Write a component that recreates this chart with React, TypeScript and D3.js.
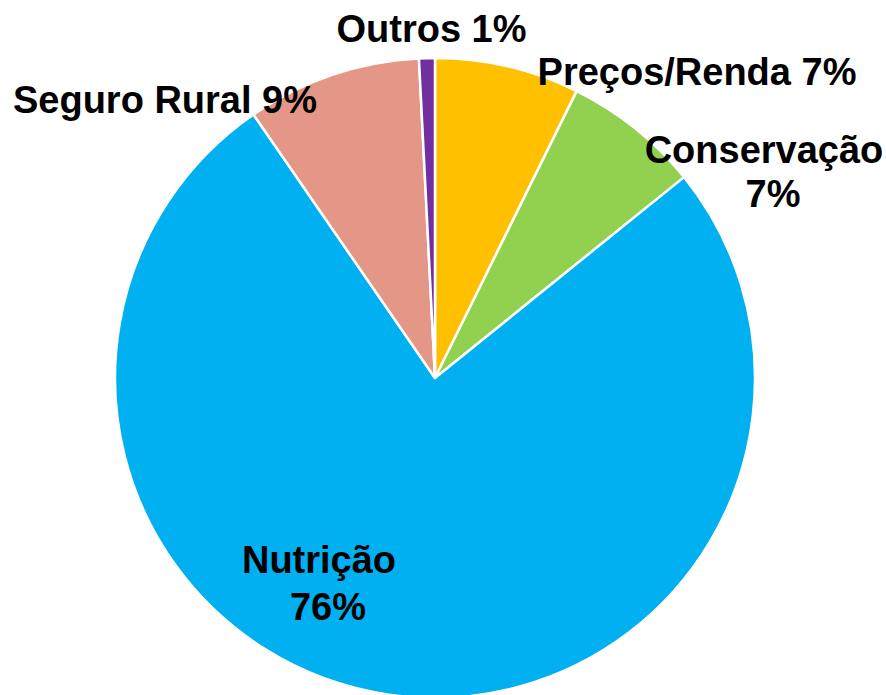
import React from "react";
import * as d3 from "d3";

const categories = ["Preços/Renda", "Conservação", "Nutrição", "Seguro Rural", "Outros"];
const values = [7.3, 6.9, 76.2, 8.8, 0.8];
const percentLabels = ["7%", "7%", "76%", "9%", "1%"];
const colors = ["#FFC000", "#92D050", "#00B0F0", "#E59787", "#7030A0"];

const W = 886;
const H = 695;
const cx = 435;
const cy = 378;
const R = 320;

// label layout (relative to centre): lines + position of each line
const labelLayout: Record<string, { lines: string[]; x: number[]; y: number[] }> = {
  "Preços/Renda": { lines: ["{c} {p}"], x: [262], y: [-293] },
  "Conservação": { lines: ["{c}", "{p}"], x: [329, 338], y: [-215, -171] },
  "Nutrição": { lines: ["{c}", "{p}"], x: [-116, -107], y: [195, 242] },
  "Seguro Rural": { lines: ["{c} {p}"], x: [-270], y: [-265] },
  "Outros": { lines: ["{c} {p}"], x: [-3.5], y: [-336] },
};

export default function App() {
  const data = categories.map((c, i) => ({ c, v: values[i], p: percentLabels[i], color: colors[i] }));
  const pie = d3
    .pie<any>()
    .sort(null)
    .value((d: any) => d.v)
    .startAngle(0)
    .endAngle(2 * Math.PI);
  const arcs = pie(data);
  const arc = d3.arc<any>().innerRadius(0).outerRadius(R);

  return (
    <svg
      width={W}
      height={H}
      style={{ position: "absolute", left: 0, top: 0, display: "block", background: "#fff" }}
    >
      <g transform={`translate(${cx},${cy})`}>
        {arcs.map((a, i) => {
          const split = a.startAngle < Math.PI / 2 && a.endAngle > Math.PI / 2;
          if (split) {
            return (
              <g key={i}>
                <path d={arc({ ...a, startAngle: a.startAngle, endAngle: Math.PI / 2 }) as string} fill={a.data.color} />
                <path d={arc({ ...a, startAngle: Math.PI / 2, endAngle: a.endAngle }) as string} fill={a.data.color} />
                <path d={arc(a) as string} fill="none" stroke="#fff" strokeWidth={2.5} strokeLinejoin="round" />
              </g>
            );
          }
          return (
            <path key={i} d={arc(a) as string} fill={a.data.color} stroke="#fff" strokeWidth={2.5} strokeLinejoin="round" />
          );
        })}
        {arcs.map((a, i) => {
          const lay = labelLayout[a.data.c];
          return (
            <g key={"l" + i}>
              {lay.lines.map((ln, j) => (
                <text
                  key={j}
                  x={lay.x[j]}
                  y={lay.y[j]}
                  textAnchor="middle"
                  fontFamily="'Liberation Sans', Arial, sans-serif"
                  fontWeight="bold"
                  fontSize={38}
                  fill="#000"
                >
                  {ln.replace("{c}", a.data.c).replace("{p}", a.data.p)}
                </text>
              ))}
            </g>
          );
        })}
      </g>
    </svg>
  );
}
